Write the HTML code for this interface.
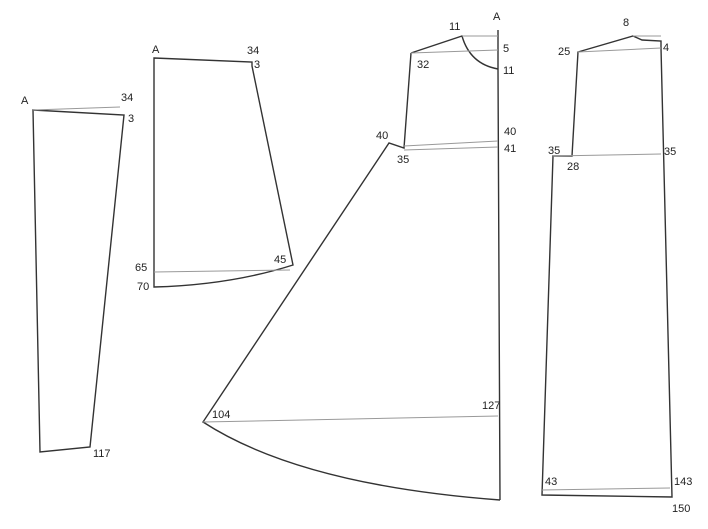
<!DOCTYPE html>
<html><head><style>
html,body{margin:0;padding:0;background:#fff;}
svg text{font-family:"Liberation Sans",sans-serif;font-size:11px;fill:#222;}
</style></head><body>
<svg width="708" height="524" viewBox="0 0 708 524" xmlns="http://www.w3.org/2000/svg">
<rect width="708" height="524" fill="#fff"/>
<g fill="none" stroke="#333" stroke-width="1.4">
<!-- piece 1 -->
<path d="M33,110 L124,115 L90,447 L40,452 Z"/>
<!-- piece 2 -->
<path d="M154,58 L252,62 L252,66 L293,265 Q230,285 154,287 Z"/>
<!-- piece 3 -->
<path d="M411,53 L462,36 Q470,64 498,69"/>
<path d="M411,53 L404,148 L389,143 L203,422 Q300,485 500,500"/>
<path d="M498,30 L498,69 L500,500"/>
<!-- piece 4 -->
<path d="M578,52 L633,36 L642,40 L661,41 L661,48 L672,497 L542,495 L553,156 L572,156 Z"/>
</g>
<g fill="none" stroke="#999" stroke-width="1">
<path d="M33,110 L120,107"/>
<path d="M154,272 L290,270"/>
<path d="M411,53 L498,50"/>
<path d="M462,36 L498,36"/>
<path d="M404,146 L498,141"/>
<path d="M404,150 L498,147"/>
<path d="M203,422 L498,416"/>
<path d="M578,52 L661,48"/>
<path d="M633,36 L661,36"/>
<path d="M553,156 L661,154"/>
<path d="M542,490 L670,488"/>
</g>
<text x="21" y="104">A</text>
<text x="121" y="101">34</text>
<text x="128" y="122">3</text>
<text x="93" y="457">117</text>
<text x="152" y="53" font-size="9">A</text>
<text x="247" y="54" font-size="9">34</text>
<text x="254" y="68" font-size="9">3</text>
<text x="135" y="271">65</text>
<text x="137" y="290">70</text>
<text x="274" y="263">45</text>
<text x="449" y="30">11</text>
<text x="493" y="20">A</text>
<text x="503" y="52">5</text>
<text x="503" y="74">11</text>
<text x="417" y="68">32</text>
<text x="376" y="139">40</text>
<text x="397" y="163">35</text>
<text x="504" y="135">40</text>
<text x="504" y="152">41</text>
<text x="212" y="418">104</text>
<text x="482" y="409">127</text>
<text x="623" y="26">8</text>
<text x="558" y="55">25</text>
<text x="663" y="51">4</text>
<text x="548" y="154">35</text>
<text x="567" y="170">28</text>
<text x="664" y="155">35</text>
<text x="545" y="485">43</text>
<text x="674" y="485">143</text>
<text x="672" y="512">150</text>
</svg>
</body></html>
